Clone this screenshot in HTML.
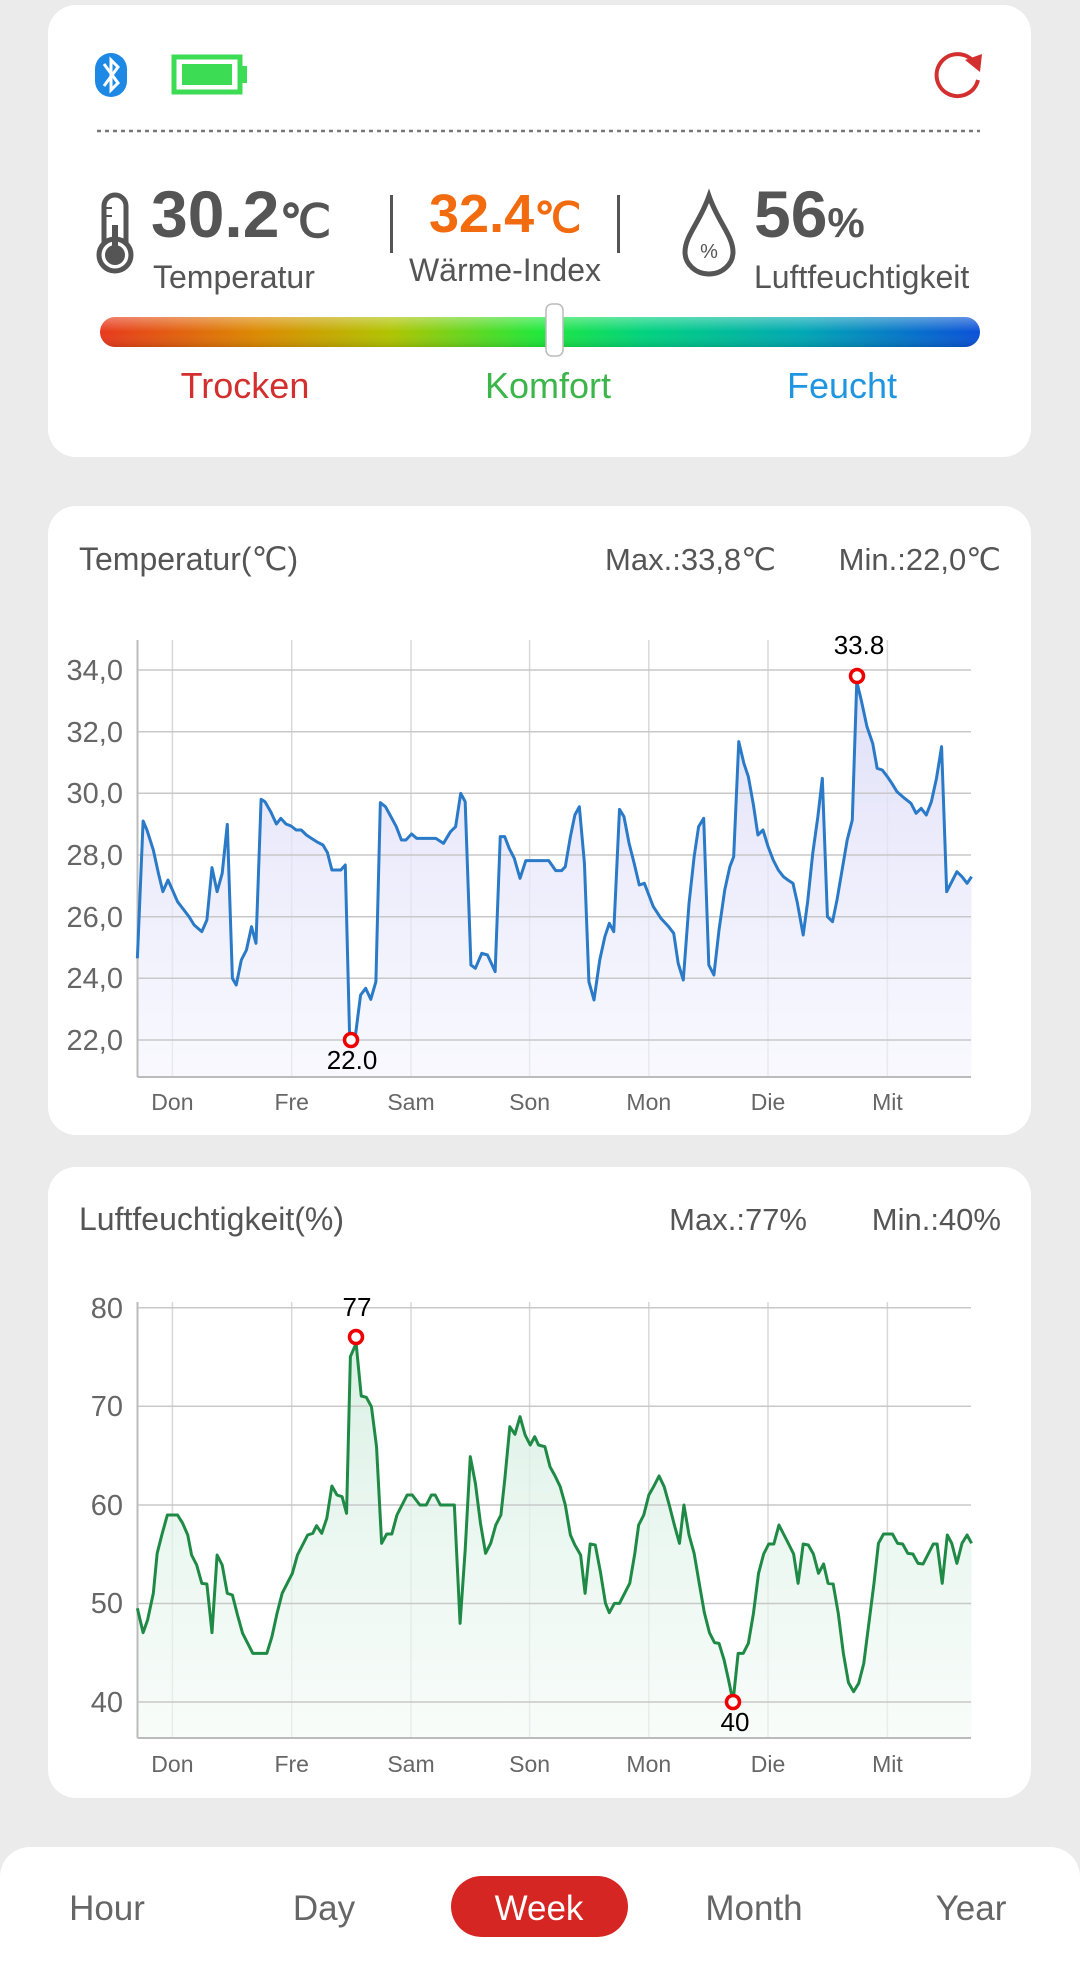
<!DOCTYPE html>
<html><head><meta charset="utf-8"><style>
html,body{margin:0;padding:0;background:#ebebeb;}
svg{display:block;font-family:"Liberation Sans",sans-serif;}
</style></head><body>
<svg width="1080" height="1961" viewBox="0 0 1080 1961" xmlns="http://www.w3.org/2000/svg">
<defs>
<linearGradient id="bar" x1="0" x2="1" y1="0" y2="0">
<stop offset="0" stop-color="#e8381c"/><stop offset="0.18" stop-color="#dc8a00"/><stop offset="0.33" stop-color="#b0c400"/><stop offset="0.5" stop-color="#1ee83a"/><stop offset="0.62" stop-color="#00d27e"/><stop offset="0.8" stop-color="#00a6b4"/><stop offset="1" stop-color="#0a50d8"/>
</linearGradient>
<linearGradient id="barshade" x1="0" x2="0" y1="0" y2="1">
<stop offset="0" stop-color="#fff" stop-opacity="0.35"/><stop offset="0.5" stop-color="#fff" stop-opacity="0"/><stop offset="1" stop-color="#000" stop-opacity="0.12"/>
</linearGradient>
<linearGradient id="tfill" x1="0" x2="0" y1="0" y2="1">
<stop offset="0" stop-color="#dcdcf8" stop-opacity="0.9"/><stop offset="1" stop-color="#f4f4fe" stop-opacity="0.6"/>
</linearGradient>
<linearGradient id="hfill" x1="0" x2="0" y1="0" y2="1">
<stop offset="0" stop-color="#d6efe2" stop-opacity="0.9"/><stop offset="1" stop-color="#f3faf6" stop-opacity="0.6"/>
</linearGradient>
</defs>

<!-- Card 1 -->
<rect x="48" y="5" width="983" height="452" rx="28" fill="#fff"/>
<rect x="95" y="53" width="32" height="44" rx="16" fill="#1e88e5"/>
<polyline points="104,64 118,83 111,90 111,60 118,67 104,86" fill="none" stroke="#fff" stroke-width="3"/>
<rect x="174" y="57" width="66" height="35" fill="none" stroke="#3ddc55" stroke-width="5"/>
<rect x="182" y="64" width="50" height="21" fill="#3ddc55"/>
<rect x="240" y="66" width="7" height="17" fill="#3ddc55"/>
<path d="M978,80 A21,21 0 1 1 974,62" fill="none" stroke="#d32f2f" stroke-width="4"/>
<polygon points="965,60 982,54 980,72" fill="#d32f2f"/>
<line x1="97" y1="131" x2="980" y2="131" stroke="#777" stroke-width="2.5" stroke-dasharray="4,4"/>

<rect x="104" y="195" width="22" height="60" rx="11" fill="none" stroke="#555" stroke-width="5"/>
<circle cx="115" cy="255" r="16" fill="#fff" stroke="#555" stroke-width="5"/>
<circle cx="115" cy="255" r="10" fill="#555"/>
<rect x="112" y="225" width="6" height="30" fill="#555"/>
<line x1="106" y1="208" x2="112" y2="208" stroke="#555" stroke-width="2"/>
<line x1="106" y1="216" x2="112" y2="216" stroke="#555" stroke-width="2"/>
<text x="151" y="237" font-size="66" font-weight="bold" fill="#555">30.2<tspan font-size="46" font-weight="bold">℃</tspan></text>
<text x="153" y="288" font-size="32" fill="#555">Temperatur</text>
<rect x="390" y="195" width="3" height="58" fill="#555"/>
<rect x="617" y="195" width="3" height="58" fill="#555"/>
<text x="429" y="232" font-size="54" font-weight="bold" fill="#f26b0f">32.4<tspan font-size="42">℃</tspan></text>
<text x="505" y="281" font-size="32" fill="#555" text-anchor="middle">Wärme-Index</text>
<path d="M709,196 C700,222 685,236 685,252 A24,22 0 0 0 733,252 C733,236 718,222 709,196 Z" fill="none" stroke="#555" stroke-width="5"/>
<text x="709" y="258" font-size="20" fill="#555" text-anchor="middle">%</text>
<text x="754" y="237" font-size="66" font-weight="bold" fill="#555">56<tspan font-size="42">%</tspan></text>
<text x="754" y="288" font-size="32" fill="#555">Luftfeuchtigkeit</text>
<rect x="100" y="317" width="880" height="30" rx="15" fill="url(#bar)"/>
<rect x="100" y="317" width="880" height="30" rx="15" fill="url(#barshade)"/>
<rect x="546" y="304" width="17" height="52" rx="6" fill="#fff" stroke="#bbb" stroke-width="1.5"/>
<text x="245" y="398" font-size="36" fill="#d32f2f" text-anchor="middle">Trocken</text>
<text x="548" y="398" font-size="36" fill="#3cb54a" text-anchor="middle">Komfort</text>
<text x="842" y="398" font-size="36" fill="#2196e0" text-anchor="middle">Feucht</text>

<!-- Card 2 -->
<rect x="48" y="506" width="983" height="629" rx="28" fill="#fff"/>
<text x="79" y="570" font-size="32" fill="#555">Temperatur(℃)</text>
<text x="776" y="570" font-size="31" fill="#555" text-anchor="end">Max.:33,8℃</text>
<text x="1001" y="570" font-size="31" fill="#555" text-anchor="end">Min.:22,0℃</text>
<g stroke="#d8d8d8" stroke-width="1.5">
<line x1="172.4" y1="640" x2="172.4" y2="1077"/><line x1="291.7" y1="640" x2="291.7" y2="1077"/><line x1="411" y1="640" x2="411" y2="1077"/><line x1="529.6" y1="640" x2="529.6" y2="1077"/><line x1="648.8" y1="640" x2="648.8" y2="1077"/><line x1="768" y1="640" x2="768" y2="1077"/><line x1="887.4" y1="640" x2="887.4" y2="1077"/>
</g>
<g transform="translate(50,600) scale(0.637755,0.333333)">
<polygon fill="url(#tfill)" points="137,1431 137,1075 146,663 152,690 162,750 170,820 177,875 185,840 192,870 200,905 210,930 218,950 226,975 238,995 246,960 254,803 262,875 270,820 278,673 286,1135 292,1155 300,1080 308,1050 316,980 323,1030 331,598 337,605 346,635 355,672 362,655 370,672 378,678 386,690 394,690 402,705 410,715 418,725 428,735 435,758 442,810 456,810 463,795 470,1325 478,1320 487,1185 495,1165 503,1198 511,1145 518,608 526,620 534,648 543,680 551,720 558,720 567,702 575,715 605,715 617,730 628,695 636,680 644,580 651,605 660,1095 667,1105 677,1060 686,1065 698,1115 706,710 713,710 720,745 728,775 737,835 746,782 782,782 793,812 802,812 808,800 816,710 823,645 830,620 838,790 845,1145 853,1200 862,1080 870,1010 877,970 884,995 893,628 900,650 908,730 916,790 924,855 932,850 946,920 958,955 970,980 978,1000 985,1090 993,1140 1002,910 1010,770 1017,680 1025,655 1033,1095 1041,1125 1049,990 1058,870 1066,800 1072,770 1080,425 1088,490 1095,530 1103,615 1110,705 1118,690 1126,740 1134,780 1142,810 1150,830 1157,840 1165,850 1172,910 1181,1005 1188,905 1196,760 1204,650 1211,535 1219,950 1227,965 1234,900 1242,810 1250,720 1258,660 1265,245 1272,300 1281,380 1290,430 1297,505 1305,510 1313,530 1320,550 1328,575 1340,595 1350,610 1358,640 1366,625 1374,645 1382,605 1390,535 1398,440 1406,875 1414,845 1422,815 1430,830 1438,850 1445,830 1445,1431"/>
</g>
<g stroke="#c8c8c8" stroke-width="1.5">
<line x1="137.5" y1="670" x2="971" y2="670"/><line x1="137.5" y1="731.7" x2="971" y2="731.7"/><line x1="137.5" y1="793.3" x2="971" y2="793.3"/><line x1="137.5" y1="855" x2="971" y2="855"/><line x1="137.5" y1="916.7" x2="971" y2="916.7"/><line x1="137.5" y1="978.3" x2="971" y2="978.3"/><line x1="137.5" y1="1040" x2="971" y2="1040"/>
</g>
<line x1="137.5" y1="640" x2="137.5" y2="1077" stroke="#bbb" stroke-width="2"/>
<line x1="137.5" y1="1077" x2="971" y2="1077" stroke="#bbb" stroke-width="2"/>
<g transform="translate(50,600) scale(0.637755,0.333333)">
<polyline fill="none" stroke="#2a7ac8" stroke-width="3" vector-effect="non-scaling-stroke" stroke-linejoin="round" points="137,1075 146,663 152,690 162,750 170,820 177,875 185,840 192,870 200,905 210,930 218,950 226,975 238,995 246,960 254,803 262,875 270,820 278,673 286,1135 292,1155 300,1080 308,1050 316,980 323,1030 331,598 337,605 346,635 355,672 362,655 370,672 378,678 386,690 394,690 402,705 410,715 418,725 428,735 435,758 442,810 456,810 463,795 470,1325 478,1320 487,1185 495,1165 503,1198 511,1145 518,608 526,620 534,648 543,680 551,720 558,720 567,702 575,715 605,715 617,730 628,695 636,680 644,580 651,605 660,1095 667,1105 677,1060 686,1065 698,1115 706,710 713,710 720,745 728,775 737,835 746,782 782,782 793,812 802,812 808,800 816,710 823,645 830,620 838,790 845,1145 853,1200 862,1080 870,1010 877,970 884,995 893,628 900,650 908,730 916,790 924,855 932,850 946,920 958,955 970,980 978,1000 985,1090 993,1140 1002,910 1010,770 1017,680 1025,655 1033,1095 1041,1125 1049,990 1058,870 1066,800 1072,770 1080,425 1088,490 1095,530 1103,615 1110,705 1118,690 1126,740 1134,780 1142,810 1150,830 1157,840 1165,850 1172,910 1181,1005 1188,905 1196,760 1204,650 1211,535 1219,950 1227,965 1234,900 1242,810 1250,720 1258,660 1265,245 1272,300 1281,380 1290,430 1297,505 1305,510 1313,530 1320,550 1328,575 1340,595 1350,610 1358,640 1366,625 1374,645 1382,605 1390,535 1398,440 1406,875 1414,845 1422,815 1430,830 1438,850 1445,830"/>
</g>
<g font-size="29" fill="#666" text-anchor="end">
<text x="123" y="680">34,0</text><text x="123" y="742">32,0</text><text x="123" y="803">30,0</text><text x="123" y="865">28,0</text><text x="123" y="927">26,0</text><text x="123" y="988">24,0</text><text x="123" y="1050">22,0</text>
</g>
<g font-size="23" fill="#666" text-anchor="middle">
<text x="172.4" y="1110">Don</text><text x="291.7" y="1110">Fre</text><text x="411" y="1110">Sam</text><text x="529.6" y="1110">Son</text><text x="648.8" y="1110">Mon</text><text x="768" y="1110">Die</text><text x="887.4" y="1110">Mit</text>
</g>
<circle cx="351" cy="1040" r="6.5" fill="#fff" stroke="#e00" stroke-width="3.5"/>
<circle cx="857" cy="676" r="6.5" fill="#fff" stroke="#e00" stroke-width="3.5"/>
<text x="352" y="1069" font-size="26" fill="#000" text-anchor="middle">22.0</text>
<text x="859" y="654" font-size="26" fill="#000" text-anchor="middle">33.8</text>

<!-- Card 3 -->
<rect x="48" y="1167" width="983" height="631" rx="28" fill="#fff"/>
<text x="79" y="1230" font-size="32" fill="#555">Luftfeuchtigkeit(%)</text>
<text x="807" y="1230" font-size="31" fill="#555" text-anchor="end">Max.:77%</text>
<text x="1001" y="1230" font-size="31" fill="#555" text-anchor="end">Min.:40%</text>
<g stroke="#d8d8d8" stroke-width="1.5">
<line x1="172.4" y1="1302" x2="172.4" y2="1738"/><line x1="291.7" y1="1302" x2="291.7" y2="1738"/><line x1="411" y1="1302" x2="411" y2="1738"/><line x1="529.6" y1="1302" x2="529.6" y2="1738"/><line x1="648.8" y1="1302" x2="648.8" y2="1738"/><line x1="768" y1="1302" x2="768" y2="1738"/><line x1="887.4" y1="1302" x2="887.4" y2="1738"/>
</g>
<g transform="translate(50,1260) scale(0.637755,0.333333)">
<polygon fill="url(#hfill)" points="137,1434 137,1045 146,1118 153,1080 162,1000 168,880 176,820 184,765 200,765 208,790 216,825 222,885 230,915 238,970 246,972 254,1118 262,885 270,915 278,1000 286,1005 294,1065 302,1120 310,1150 318,1180 340,1180 348,1130 356,1060 364,1000 372,970 380,940 388,885 396,855 404,825 412,820 418,797 426,820 434,775 442,678 450,705 458,710 465,760 471,290 480,250 488,408 496,412 504,440 512,560 520,850 528,822 536,822 544,765 552,735 560,705 568,705 574,720 580,735 590,735 598,705 604,705 612,735 634,735 643,1090 651,870 659,590 667,670 675,790 683,880 691,850 699,795 707,765 713,660 721,500 729,523 737,470 745,525 753,555 760,530 766,555 776,560 784,620 792,648 800,680 808,735 816,825 823,855 832,885 839,1000 847,852 855,855 863,935 871,1030 877,1058 885,1030 893,1030 901,1000 909,970 917,880 923,795 931,765 939,705 947,678 955,648 963,680 971,735 979,795 987,850 994,735 1002,825 1010,880 1018,970 1026,1058 1034,1118 1042,1148 1049,1150 1057,1200 1064,1260 1071,1325 1079,1180 1087,1180 1095,1150 1103,1060 1111,940 1119,882 1127,852 1135,852 1143,795 1151,825 1159,855 1166,882 1173,970 1181,852 1189,855 1197,882 1205,940 1213,912 1220,970 1228,972 1236,1060 1244,1180 1252,1268 1260,1295 1268,1270 1276,1210 1284,1090 1292,970 1299,850 1307,822 1321,822 1329,850 1337,852 1345,880 1353,882 1361,910 1369,912 1377,882 1385,852 1391,852 1399,970 1407,825 1414,850 1422,910 1430,850 1438,825 1445,850 1445,1434"/>
</g>
<g stroke="#c8c8c8" stroke-width="1.5">
<line x1="137.5" y1="1307.7" x2="971" y2="1307.7"/><line x1="137.5" y1="1406.3" x2="971" y2="1406.3"/><line x1="137.5" y1="1505" x2="971" y2="1505"/><line x1="137.5" y1="1603.5" x2="971" y2="1603.5"/><line x1="137.5" y1="1702" x2="971" y2="1702"/>
</g>
<line x1="137.5" y1="1302" x2="137.5" y2="1738" stroke="#bbb" stroke-width="2"/>
<line x1="137.5" y1="1738" x2="971" y2="1738" stroke="#bbb" stroke-width="2"/>
<g transform="translate(50,1260) scale(0.637755,0.333333)">
<polyline fill="none" stroke="#1f8a45" stroke-width="3" vector-effect="non-scaling-stroke" stroke-linejoin="round" points="137,1045 146,1118 153,1080 162,1000 168,880 176,820 184,765 200,765 208,790 216,825 222,885 230,915 238,970 246,972 254,1118 262,885 270,915 278,1000 286,1005 294,1065 302,1120 310,1150 318,1180 340,1180 348,1130 356,1060 364,1000 372,970 380,940 388,885 396,855 404,825 412,820 418,797 426,820 434,775 442,678 450,705 458,710 465,760 471,290 480,250 488,408 496,412 504,440 512,560 520,850 528,822 536,822 544,765 552,735 560,705 568,705 574,720 580,735 590,735 598,705 604,705 612,735 634,735 643,1090 651,870 659,590 667,670 675,790 683,880 691,850 699,795 707,765 713,660 721,500 729,523 737,470 745,525 753,555 760,530 766,555 776,560 784,620 792,648 800,680 808,735 816,825 823,855 832,885 839,1000 847,852 855,855 863,935 871,1030 877,1058 885,1030 893,1030 901,1000 909,970 917,880 923,795 931,765 939,705 947,678 955,648 963,680 971,735 979,795 987,850 994,735 1002,825 1010,880 1018,970 1026,1058 1034,1118 1042,1148 1049,1150 1057,1200 1064,1260 1071,1325 1079,1180 1087,1180 1095,1150 1103,1060 1111,940 1119,882 1127,852 1135,852 1143,795 1151,825 1159,855 1166,882 1173,970 1181,852 1189,855 1197,882 1205,940 1213,912 1220,970 1228,972 1236,1060 1244,1180 1252,1268 1260,1295 1268,1270 1276,1210 1284,1090 1292,970 1299,850 1307,822 1321,822 1329,850 1337,852 1345,880 1353,882 1361,910 1369,912 1377,882 1385,852 1391,852 1399,970 1407,825 1414,850 1422,910 1430,850 1438,825 1445,850"/>
</g>
<g font-size="29" fill="#666" text-anchor="end">
<text x="123" y="1318">80</text><text x="123" y="1416">70</text><text x="123" y="1515">60</text><text x="123" y="1613">50</text><text x="123" y="1712">40</text>
</g>
<g font-size="23" fill="#666" text-anchor="middle">
<text x="172.4" y="1772">Don</text><text x="291.7" y="1772">Fre</text><text x="411" y="1772">Sam</text><text x="529.6" y="1772">Son</text><text x="648.8" y="1772">Mon</text><text x="768" y="1772">Die</text><text x="887.4" y="1772">Mit</text>
</g>
<circle cx="356" cy="1337" r="6.5" fill="#fff" stroke="#e00" stroke-width="3.5"/>
<circle cx="733" cy="1702" r="6.5" fill="#fff" stroke="#e00" stroke-width="3.5"/>
<text x="357" y="1316" font-size="26" fill="#000" text-anchor="middle">77</text>
<text x="735" y="1731" font-size="26" fill="#000" text-anchor="middle">40</text>

<!-- bottom bar -->
<path d="M0,1961 L0,1877 A30,30 0 0 1 30,1847 L1050,1847 A30,30 0 0 1 1080,1877 L1080,1961 Z" fill="#fff"/>
<rect x="451" y="1876" width="177" height="61" rx="30.5" fill="#d62623"/>
<g font-size="35" text-anchor="middle" fill="#666">
<text x="107" y="1920">Hour</text><text x="324" y="1920">Day</text><text x="539" y="1920" fill="#fff">Week</text><text x="754" y="1920">Month</text><text x="971" y="1920">Year</text>
</g>
</svg>
</body></html>
